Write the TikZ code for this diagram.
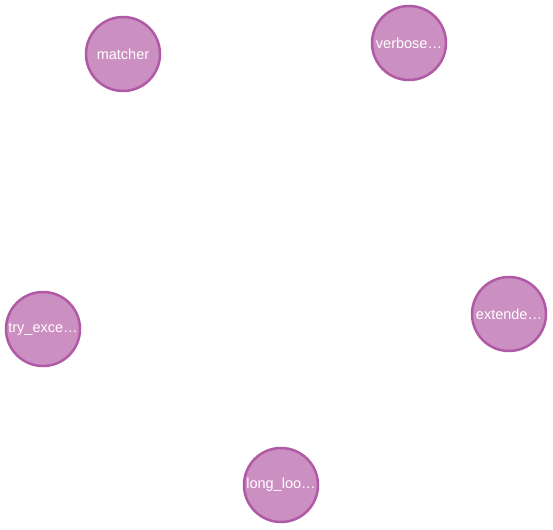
\documentclass[tikz,border=0pt]{standalone}
\usepackage{fontspec}
\setmainfont{Liberation Sans}
\definecolor{nodefill}{HTML}{CC8FC2}
\definecolor{nodeline}{HTML}{B05AA6}
\begin{document}
\begin{tikzpicture}[x=1pt,y=-1pt,
  gnode/.style={circle,draw=nodeline,fill=nodefill,line width=2.5pt,minimum size=74pt,inner sep=0pt,text=white,font=\fontsize{14.5}{16}\selectfont}]
\useasboundingbox (0,0) rectangle (553,529);
\node[gnode] (matcher) at (123,54) {matcher};
\node[gnode] (verbose) at (409,43) {verbose\ldots};
\node[gnode] (extende) at (509,314) {extende\ldots};
\node[gnode] (tryexce) at (43,329) {try\_exce\ldots};
\node[gnode] (longloo) at (281,485) {long\_loo\ldots};
\end{tikzpicture}
\end{document}
